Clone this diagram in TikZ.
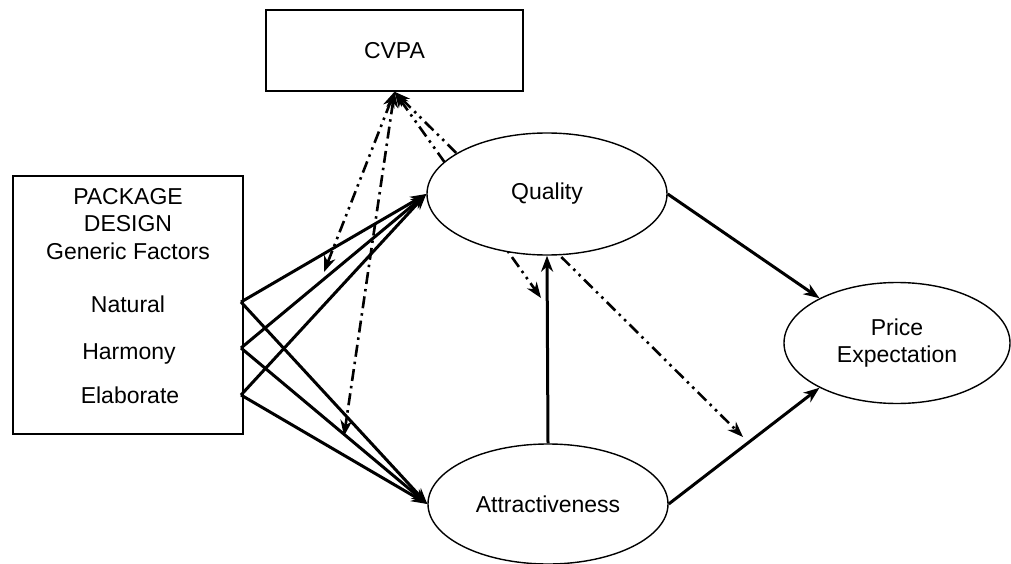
\documentclass[tikz,border=0pt]{standalone}
\usepackage{fontspec}
\setmainfont{Liberation Sans}
\usetikzlibrary{arrows.meta,shapes.geometric,backgrounds}

\begin{document}
\begin{tikzpicture}[x=1pt, y=-1pt, font=\fontsize{23}{27.5}\selectfont,
    box/.style={draw, line width=1.5pt, inner sep=0pt},
    construct/.style={ellipse, draw, fill=white, line width=1.4pt, inner sep=0pt, align=center},
    effect/.style={line width=3pt, -{Stealth[length=16pt,width=12pt]}},
    moderate/.style={line width=2.6pt, {Stealth[length=16pt,width=12pt,line width=0pt]}-{Stealth[length=16pt,width=12pt,line width=0pt]}},
    dashdotdot/.style={dash pattern=on 12pt off 5pt on 2.5pt off 5pt on 2.5pt off 5pt},
    dashdot/.style={dash pattern=on 12pt off 5pt on 2.5pt off 5pt}]
    \useasboundingbox (0,0) rectangle (1011,564);

    \node[box, minimum width=257pt, minimum height=81pt] (cvpa) at (394.5,50.5) {CVPA};
    \node[box, minimum width=230pt, minimum height=258pt] (package) at (128,305) {};
    \node[anchor=north, inner sep=0pt, align=center] (title) at (128,188) {PACKAGE\\DESIGN\\Generic Factors};
    \node[anchor=base] (natural) at (128,312) {Natural};
    \node[anchor=base] (harmony) at (129,359) {Harmony};
    \node[anchor=base] (elaborate) at (130,403) {Elaborate};
    \coordinate (natural-out) at (241,302);
    \coordinate (harmony-out) at (241,348);
    \coordinate (elaborate-out) at (241,395);

    \node[construct, minimum width=240pt, minimum height=122pt] (quality) at (547,194) {Quality};
    \node[construct, minimum width=240pt, minimum height=120pt] (attract) at (548,504) {Attractiveness};
    \node[construct, minimum width=226pt, minimum height=121pt] (price) at (897,343) {Price\\Expectation};

    \coordinate (mod-nat) at (324,272);
    \coordinate (mod-att) at (344,436);
    \coordinate (mod-qa) at (541,298);
    \coordinate (mod-ap) at (743,437);

    \foreach \f in {natural,harmony,elaborate} {
        \draw[effect] (\f-out) -- (quality.west);
        \draw[effect] (\f-out) -- (attract.west);
    }
    \draw[effect] (attract.north) -- (quality.south);
    \draw[effect] (quality.east) -- (price.150);
    \draw[effect] (attract.east) -- (price.210);

    \draw[moderate, dashdotdot] (cvpa.south) -- (mod-nat);
    \draw[moderate, dashdot] (cvpa.south) -- (mod-att);
    \begin{pgfonlayer}{background}
        \draw[moderate, dashdotdot] (cvpa.south) -- (mod-qa);
        \draw[moderate, dashdotdot] (cvpa.south) -- (mod-ap);
    \end{pgfonlayer}
\end{tikzpicture}
\end{document}
